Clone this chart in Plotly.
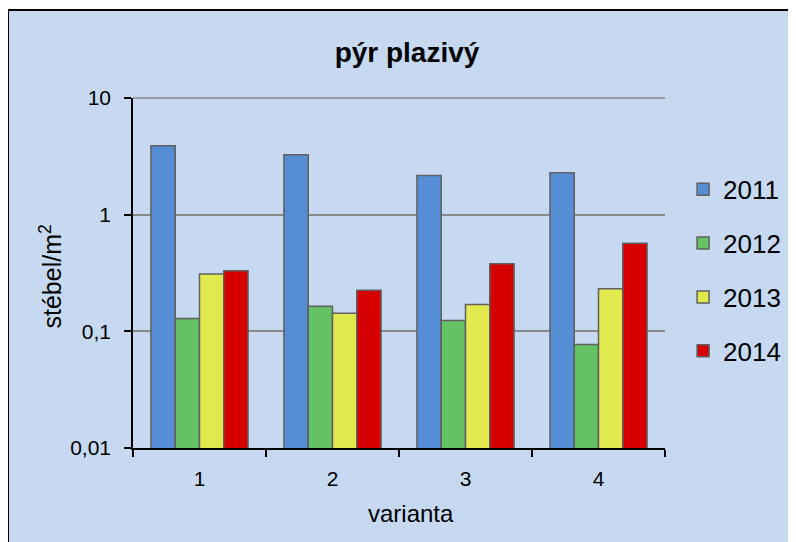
import plotly.graph_objects as go

# data
varianta = ["1", "2", "3", "4"]
years = ["2011", "2012", "2013", "2014"]
v2011 = [3.9, 3.27, 2.17, 2.29]
v2012 = [0.129, 0.164, 0.124, 0.077]
v2013 = [0.31, 0.143, 0.17, 0.232]
v2014 = [0.33, 0.225, 0.38, 0.57]
ytick_vals = [0.01, 0.1, 1, 10]
ytick_text = ["0,01", "0,1", "1", "10"]

COLORS = ["#558ED5", "#64C164", "#E0EA4F", "#D60000"]
BG = "#C6D9F1"
GRID = "#898989"
FONT = "Liberation Sans, Arial, sans-serif"
TICK = 21


def sized(t, s):
    return f"<span style='font-size:{s}px'>{t}</span>"


fig = go.Figure()
for name, vals, col in zip(years, [v2011, v2012, v2013, v2014], COLORS):
    fig.add_trace(go.Bar(
        x=varianta, y=vals, name=name, legendgroup=name,
        marker=dict(color=col, line=dict(color="#606060", width=1.5)),
    ))

# page body adds an 8px offset, so the figure is 8px smaller than the window
W, H = 788, 534
L, R, T, B = 125, 131, 90, 94
pw, ph = W - L - R, H - T - B

fig.update_layout(
    width=W, height=H,
    margin=dict(l=L, r=R, t=T, b=B, autoexpand=False),
    paper_bgcolor="white", plot_bgcolor=BG,
    font=dict(family=FONT, color="black"),
    barmode="group", bargap=0.27, bargroupgap=0,
    title=dict(text="<b>pýr plazivý</b>", x=399 / W, xanchor="center",
               y=1 - 44 / H, yanchor="middle", font=dict(size=28)),
    legend=dict(x=1.034, y=0.806, xanchor="left", yanchor="top",
                font=dict(size=26), tracegroupgap=17, itemwidth=30,
                bgcolor="rgba(0,0,0,0)"),
    showlegend=True,
)

fig.update_xaxes(
    showline=True, linecolor="black", linewidth=1.5,
    ticks="outside", ticklen=7, tickcolor="black", tickwidth=1.5,
    tickson="boundaries", ticklabelstandoff=11,
    tickvals=varianta, ticktext=[sized(v, TICK) for v in varianta],
    tickfont=dict(size=TICK), showgrid=False,
)
fig.update_yaxes(
    type="log", range=[-2, 1],
    tickvals=ytick_vals, ticktext=[sized(t, TICK) for t in ytick_text],
    showline=True, linecolor="black", linewidth=1.5,
    ticks="outside", ticklen=7, tickcolor="black", tickwidth=1.5,
    ticklabelstandoff=9,
    tickfont=dict(size=TICK), showgrid=True, gridcolor=GRID, gridwidth=1.5,
)

# axis titles as annotations for exact placement
fig.add_annotation(text="varianta", xref="paper", yref="paper",
                   x=(403 - L) / pw, y=-(505 - T - ph) / ph,
                   xanchor="center", yanchor="middle", showarrow=False,
                   font=dict(size=24))
fig.add_annotation(text="stébel/m<sup>2</sup>", xref="paper", yref="paper",
                   x=(42 - L) / pw, y=0.49, textangle=-90,
                   xanchor="center", yanchor="middle", showarrow=False,
                   font=dict(size=25))

# chart area fill with frame (only left and top edges fall inside the window)
fig.add_shape(type="rect", xref="paper", yref="paper",
              x0=(0 - L) / pw, x1=(W + 30 - L) / pw,
              y0=-(H + 30 - T - ph) / ph, y1=1 + (T - 2) / ph,
              line=dict(color="black", width=2), fillcolor=BG, layer="below")
# gridline at the top of the plot (10)
fig.add_shape(type="line", xref="paper", yref="paper", x0=0, x1=1, y0=1, y1=1,
              line=dict(color=GRID, width=1.5), layer="below")

fig.write_html("out.html")
